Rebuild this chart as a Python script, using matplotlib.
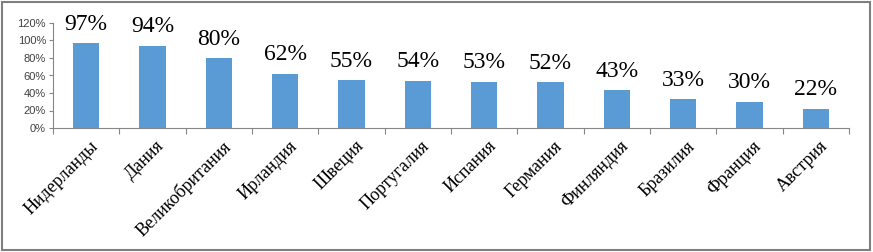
import matplotlib
matplotlib.use("Agg")
import matplotlib.pyplot as plt
from matplotlib.patches import Rectangle
from matplotlib.ticker import FuncFormatter

countries = ["Нидерланды", "Дания", "Великобритания", "Ирландия", "Швеция",
             "Португалия", "Испания", "Германия", "Финляндия", "Бразилия",
             "Франция", "Австрия"]
values = [97, 94, 80, 62, 55, 54, 53, 52, 43, 33, 30, 22]
yticks = [0, 20, 40, 60, 80, 100, 120]

fig = plt.figure(figsize=(8.73, 2.52), dpi=100)
ax = fig.add_axes([53/873, 1-128/252, (849-53)/873, (128-23)/252])

x = list(range(len(countries)))
ax.bar(x, values, width=0.4, color="#5B9BD5", zorder=2)

ax.set_xlim(-0.5, len(countries)-0.5)
ax.set_ylim(0, 120)
ax.set_yticks(yticks)
ax.yaxis.set_major_formatter(FuncFormatter(lambda v, p: f"{int(v)}%"))
ax.tick_params(axis="y", labelsize=8, length=3, color="#868686", pad=2,
               labelcolor="#404040")
for lab in ax.get_yticklabels():
    lab.set_family("Liberation Sans")

ax.set_xticks([i - 0.5 for i in range(len(countries)+1)])
ax.set_xticklabels([])
ax.tick_params(axis="x", length=4, color="#868686")
ax.set_xticks([i + 0.05 for i in x], minor=True)
ax.set_xticklabels(countries, minor=True, rotation=45, ha="right", va="top",
                   rotation_mode="anchor", family="Liberation Serif", fontsize=13)
ax.tick_params(axis="x", which="minor", length=0, pad=7)

for s in ["top", "right"]:
    ax.spines[s].set_visible(False)
for s in ["left", "bottom"]:
    ax.spines[s].set_color("#868686")

for xi, v in zip(x, values):
    ax.annotate(f"{v}%", (xi, v), xytext=(0, 6), textcoords="offset points",
                ha="center", va="bottom", family="Liberation Serif", fontsize=17)

fig.patches.append(Rectangle((0.002, 0.006), 0.995, 0.988, transform=fig.transFigure,
                             fill=False, edgecolor="#7f7f7f", linewidth=1.5))

fig.savefig("out.png", dpi=100)
